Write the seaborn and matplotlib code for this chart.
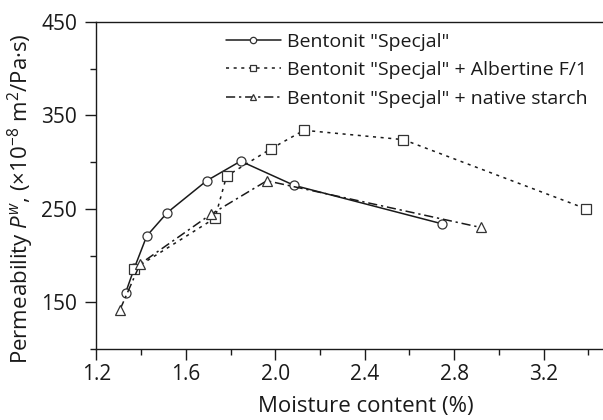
import matplotlib
matplotlib.use("Agg")
import matplotlib.pyplot as plt
import seaborn as sns
import pandas as pd
from matplotlib.ticker import MultipleLocator

sns.set_theme(style="white")
plt.rcParams['font.family'] = ['Open Sans', 'DejaVu Sans']
plt.rcParams['mathtext.fontset'] = 'custom'
plt.rcParams['mathtext.rm'] = 'Open Sans'
plt.rcParams['mathtext.it'] = 'Open Sans:italic'

labels = ['Bentonit "Specjal"',
          'Bentonit "Specjal" + Albertine F/1',
          'Bentonit "Specjal" + native starch']

x1 = [1.33, 1.37, 1.425, 1.517, 1.693, 1.845, 2.085, 2.745]
y1 = [160, 187, 221, 246, 280, 301, 275, 234]

x2 = [1.37, 1.73, 1.782, 1.979, 2.128, 2.573, 3.39]
y2 = [186, 240, 285, 314, 334, 324, 250]

x3 = [1.305, 1.395, 1.711, 1.962, 2.92]
y3 = [142, 191, 244, 280, 230]

series = [(x1, y1, 'o', '-'), (x2, y2, 's', (0, (2, 3))), (x3, y3, '^', (0, (6, 2.5, 1.5, 2.5)))]

fig = plt.figure(figsize=(6.03, 4.2), dpi=100)
ax = fig.add_axes([0.160, 0.169, 0.840, 0.779])

for (xs, ys, mk, ls), lab in zip(series, labels):
    df = pd.DataFrame({'x': xs, 'y': ys})
    sns.lineplot(data=df, x='x', y='y', ax=ax, color='#1a1a1a', linewidth=1.1,
                 linestyle=ls, marker=mk, markersize=6.5, markerfacecolor='white',
                 markeredgecolor='#333333', markeredgewidth=0.9, label=lab,
                 estimator=None, sort=False)

ax.set_xlim(1.2, 3.466)
ax.set_ylim(100, 450)
ax.xaxis.set_major_locator(MultipleLocator(0.4))
ax.xaxis.set_minor_locator(MultipleLocator(0.2))
ax.yaxis.set_major_locator(MultipleLocator(100))
ax.yaxis.set_minor_locator(MultipleLocator(50))
ax.set_yticks([150, 250, 350, 450])
ax.xaxis.set_major_formatter(matplotlib.ticker.FormatStrFormatter('%.1f'))

ax.tick_params(axis='both', which='major', direction='out', length=8, width=1,
               labelsize=15, color='#1a1a1a', labelcolor='#1a1a1a')
ax.tick_params(axis='y', which='major', pad=6)
ax.tick_params(axis='x', which='major', pad=3)
ax.tick_params(axis='both', which='minor', direction='out', length=4, width=1,
               color='#1a1a1a')
ax.tick_params(bottom=True, left=True, which='both')

for s in ['left', 'bottom', 'top']:
    ax.spines[s].set_visible(True)
    ax.spines[s].set_color('#1a1a1a')
    ax.spines[s].set_linewidth(1.0)
ax.spines['right'].set_visible(False)

ax.set_xlabel('Moisture content (%)', fontsize=16, color='#1a1a1a')
ax.set_ylabel(r'Permeability $\mathit{P}^{w}$, (×10$^{-8}$ m$^{2}$/Pa·s)',
              fontsize=16, color='#1a1a1a')
ax.xaxis.set_label_coords(0.531, -0.145)
ax.yaxis.set_label_coords(-0.12, 0.46)

leg = ax.legend(loc='upper left', bbox_to_anchor=(0.235, 1.0), frameon=False,
                fontsize=14, handlelength=2.8, handletextpad=0.35,
                labelspacing=0.55, borderaxespad=0.15, markerscale=0.7)
for t in leg.get_texts():
    t.set_color('#1a1a1a')

fig.savefig('out.png', dpi=100)
